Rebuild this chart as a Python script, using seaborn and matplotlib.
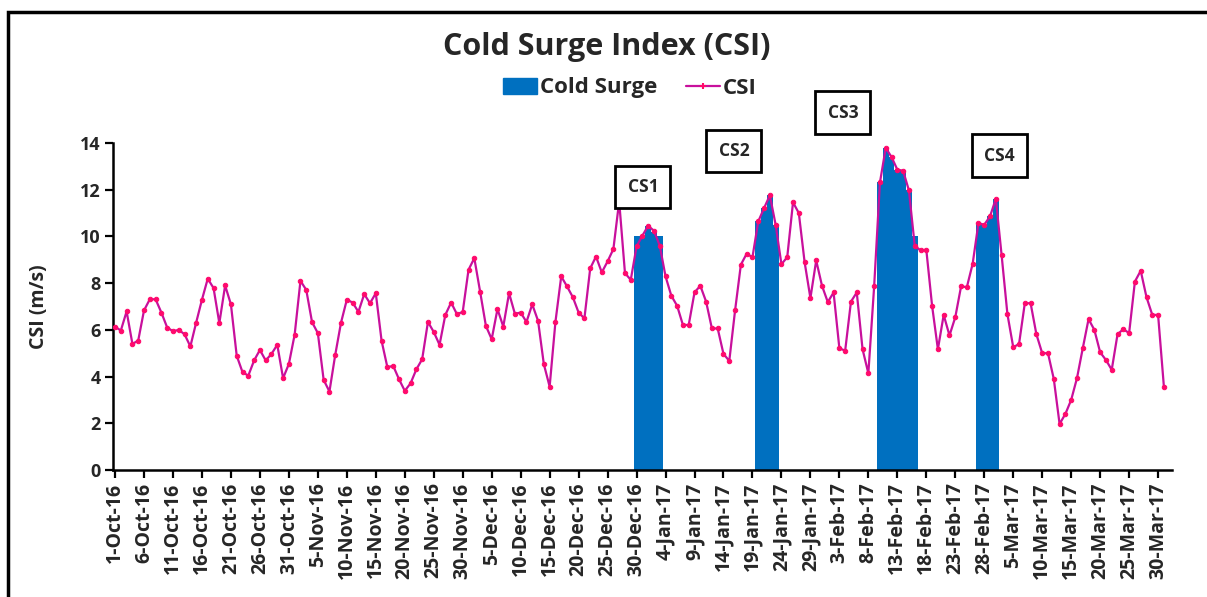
import numpy as np
import pandas as pd
import matplotlib
matplotlib.use("Agg")
import matplotlib.pyplot as plt
from matplotlib.patches import Patch, Rectangle
from matplotlib.lines import Line2D
import seaborn as sns

# daily CSI, 1-Oct-16 .. 31-Mar-17 (m/s)
csi_oct = [6.14, 5.97, 6.79, 5.40, 5.54, 6.83, 7.31, 7.31, 6.74, 6.10,
           5.94, 6.00, 5.81, 5.29, 6.31, 7.29, 8.19, 7.79, 6.29, 7.90,
           7.09, 4.89, 4.19, 4.04, 4.69, 5.14, 4.69, 4.97, 5.36, 3.93, 4.54]
csi_nov = [5.80, 8.10, 7.71, 6.33, 5.86, 3.86, 3.36, 4.93, 6.31, 7.29,
           7.17, 6.77, 7.53, 7.14, 7.57, 5.53, 4.40, 4.46, 3.89, 3.39,
           3.71, 4.31, 4.74, 6.34, 5.91, 5.36, 6.64, 7.17, 6.67, 6.77]
csi_dec = [8.57, 9.07, 7.64, 6.17, 5.60, 6.89, 6.14, 7.57, 6.69, 6.74,
           6.34, 7.09, 6.39, 4.53, 3.57, 6.34, 8.29, 7.86, 7.40, 6.74,
           6.49, 8.63, 9.14, 8.46, 8.93, 9.46, 11.50, 8.43, 8.14, 9.57, 10.03]
csi_jan = [10.46, 10.24, 9.61, 8.29, 7.46, 7.03, 6.21, 6.21, 7.60, 7.89,
           7.21, 6.06, 6.06, 4.97, 4.67, 6.83, 8.79, 9.26, 9.11, 10.64,
           11.21, 11.76, 10.50, 8.81, 9.11, 11.46, 11.00, 8.90, 7.36, 8.97, 7.89]
csi_feb = [7.19, 7.60, 5.21, 5.11, 7.21, 7.60, 5.17, 4.14, 7.86, 12.31,
           13.79, 13.40, 12.86, 12.81, 11.97, 9.61, 9.40, 9.43, 7.03, 5.17,
           6.64, 5.76, 6.54, 7.86, 7.83, 8.83, 10.57, 10.50]
csi_mar = [10.86, 11.61, 9.19, 6.67, 5.26, 5.39, 7.14, 7.14, 5.81, 5.00,
           5.00, 3.90, 1.97, 2.40, 3.00, 3.93, 5.21, 6.46, 6.00, 5.04,
           4.71, 4.29, 5.81, 6.03, 5.86, 8.07, 8.53, 7.40, 6.64, 6.64, 3.57]

# cold surge days and bar heights
surge_dates = ["2016-12-30", "2016-12-31", "2017-01-01", "2017-01-02", "2017-01-03",
               "2017-01-20", "2017-01-21", "2017-01-22", "2017-01-23",
               "2017-02-10", "2017-02-11", "2017-02-12", "2017-02-13",
               "2017-02-14", "2017-02-15", "2017-02-16",
               "2017-02-27", "2017-02-28", "2017-03-01", "2017-03-02"]
surge_values = [10.0, 10.0, 10.45, 10.2, 10.0,
                10.64, 11.21, 11.76, 10.5,
                12.31, 13.79, 13.40, 12.86, 12.81, 11.97, 10.0,
                10.57, 10.5, 10.86, 11.61]

cs_labels = ["CS1", "CS2", "CS3", "CS4"]
cs_label_x = [91.1, 106.8, 125.6, 152.6]
cs_label_y = [12.13, 13.67, 15.3, 13.46]

start = pd.Timestamp("2016-10-01")
csi = csi_oct + csi_nov + csi_dec + csi_jan + csi_feb + csi_mar
dates = pd.date_range(start, periods=len(csi), freq="D")
df = pd.DataFrame({"day": np.arange(len(csi)), "csi": csi})
surge = pd.DataFrame({
    "day": [(pd.Timestamp(d) - start).days for d in surge_dates],
    "value": surge_values,
})

BLUE = "#0070C0"
LINE = "#C8109C"
MARK = "#FF0A6C"

sns.set_style("white")
plt.rcParams["font.family"] = ["Open Sans", "DejaVu Sans"]
plt.rcParams["font.weight"] = "bold"

fig = plt.figure(figsize=(12.07, 5.97), dpi=100)
ax = fig.add_axes([113 / 1207, 1 - 470 / 597, (1172 - 113) / 1207, (470 - 143) / 597])

sns.barplot(data=surge, x="day", y="value", native_scale=True, width=1.0,
            color=BLUE, saturation=1, errorbar=None, linewidth=0,
            edgecolor=BLUE, ax=ax, zorder=2)
sns.lineplot(data=df, x="day", y="csi", color=LINE, lw=1.6, marker="o",
             markersize=3.2, markerfacecolor=MARK, markeredgecolor=MARK,
             ax=ax, zorder=3)

ax.set_xlim(-0.35, 182.4)
ax.set_ylim(0, 14)
ax.set_yticks(range(0, 15, 2))
ax.set_yticklabels([str(v) for v in range(0, 15, 2)], fontsize=13, fontweight="bold")
tick_days = df["day"].values[::5]
ax.set_xticks(tick_days)
ax.set_xticklabels([f"{d.day}-{d.strftime('%b')}-{d.strftime('%y')}" for d in dates[::5]],
                   rotation=90, fontsize=14, fontweight="bold")
ax.set_xlabel("")
ax.set_ylabel("CSI (m/s)", fontsize=14, fontweight="bold", labelpad=22)

for side in ["top", "right"]:
    ax.spines[side].set_visible(False)
for side in ["left", "bottom"]:
    ax.spines[side].set_color("black")
    ax.spines[side].set_linewidth(1.8)
ax.tick_params(axis="both", direction="out", length=6, width=1.6, color="black",
               left=True, bottom=True, pad=3)

for lab, lx, ly in zip(cs_labels, cs_label_x, cs_label_y):
    ax.text(lx, ly, lab, ha="center", va="center", fontsize=12.5, fontweight="bold",
            clip_on=False, zorder=5,
            bbox=dict(boxstyle="square,pad=0.7", fc="white", ec="black", lw=2))

fig.text(607 / 1207, 1 - 47 / 597, "Cold Surge Index (CSI)", ha="center", va="center",
         fontsize=22, fontweight="bold")

handles = [Patch(facecolor=BLUE, edgecolor=BLUE),
           Line2D([0], [0], color=LINE, lw=1.6, marker="+", markersize=5,
                  markeredgecolor=MARK, markeredgewidth=1.5)]
fig.legend(handles, ["Cold Surge", "CSI"], loc="center",
           bbox_to_anchor=(630 / 1207, 1 - 88 / 597), ncol=2, frameon=False,
           prop={"size": 16, "weight": "bold"}, handlelength=1.5, handletextpad=0.15,
           columnspacing=1.3)

fig.add_artist(Rectangle((8 / 1207, -0.1), 1.2, 1 - 12 / 597 + 0.1,
                         transform=fig.transFigure, fill=False, ec="black", lw=2.5,
                         clip_on=False))

fig.savefig("out.png", dpi=100)
